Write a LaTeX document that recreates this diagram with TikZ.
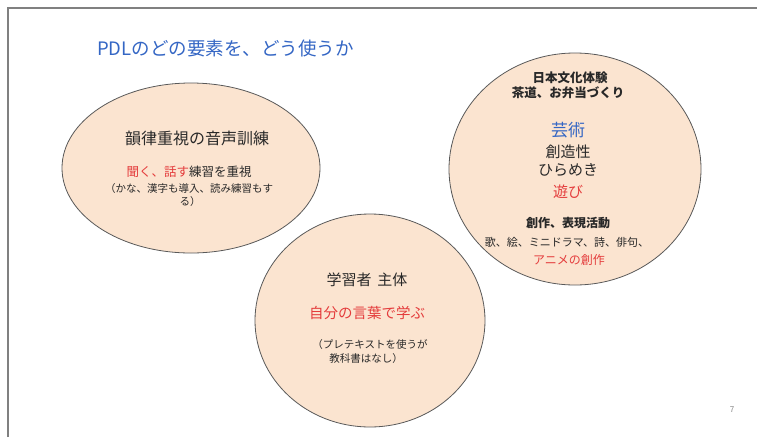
\documentclass[tikz,border=0pt]{standalone}
\usepackage{fontspec}
\setmainfont{Noto Sans CJK JP}
\definecolor{peach}{RGB}{251,228,208}
\definecolor{titleblue}{RGB}{52,102,196}
\definecolor{redtext}{RGB}{228,60,60}
\definecolor{darktext}{RGB}{40,40,40}
\tikzset{
  bubble/.style={draw=black!65,fill=peach,line width=0.8pt},
  txt/.style={inner sep=0pt,text=darktext},
}
\newcommand{\fs}[1]{\fontsize{#1}{#1}\selectfont}

\begin{document}
\begin{tikzpicture}[x=1pt,y=-1pt]
			\useasboundingbox (0,0) rectangle (757,437);
			\draw[gray,line width=1.6pt] (8,437) -- (8,8) -- (757,8);
			\node[txt,text=titleblue,anchor=west] (title) at (97,48) {\fs{18.5}PDLのどの要素を、どう使うか};
			% three bubbles
			\draw[bubble] (191,168) ellipse (129 and 85);
			\draw[bubble] (575,169) ellipse (126 and 116);
			\draw[bubble] (370,320.5) ellipse (115 and 106.5);
			% left bubble
			\node[txt] (rhythm) at (197,138) {\fs{16}韻律重視の音声訓練};
			\node[txt] (listen) at (189,172) {\fs{12.5}\textcolor{redtext}{聞く、話す}練習を重視};
			\node[txt] (kana) at (189,189) {\fs{10.5}（かな、漢字も導入、読み練習もす};
			\node[txt] (kanaend) at (190,202) {\fs{10.5}る）};
			% middle bubble
			\node[txt] (learner) at (367,280) {\fs{15}学習者\hspace{0.4em}主体};
			\node[txt,text=redtext] (ownwords) at (367,313) {\fs{14.5}自分の言葉で学ぶ};
			\node[txt] (pretext) at (370,345) {\fs{10.5}（プレテキストを使うが};
			\node[txt] (notext) at (366,359) {\fs{10.5}教科書はなし）};
			% right bubble
			\node[txt] (culture) at (570,78) {\fs{12.5}\bfseries 日本文化体験};
			\node[txt] (tea) at (568,93) {\fs{12.5}\bfseries 茶道、お弁当づくり};
			\node[txt,text=titleblue] (art) at (568,130) {\fs{17}芸術};
			\node[txt] (creative) at (568,152) {\fs{15}創造性};
			\node[txt] (idea) at (568,170) {\fs{15}ひらめき};
			\node[txt,text=redtext] (play) at (568,192) {\fs{15}遊び};
			\node[txt] (making) at (568,223) {\fs{12}\bfseries 創作、表現活動};
			\node[txt] (poems) at (567,242) {\fs{11}歌、絵、ミニドラマ、詩、俳句、};
			\node[txt,text=redtext] (anime) at (569,260) {\fs{12}アニメの創作};
			\node[txt,text=gray] (page) at (732,410) {\fs{8}7};
\end{tikzpicture}
\end{document}
